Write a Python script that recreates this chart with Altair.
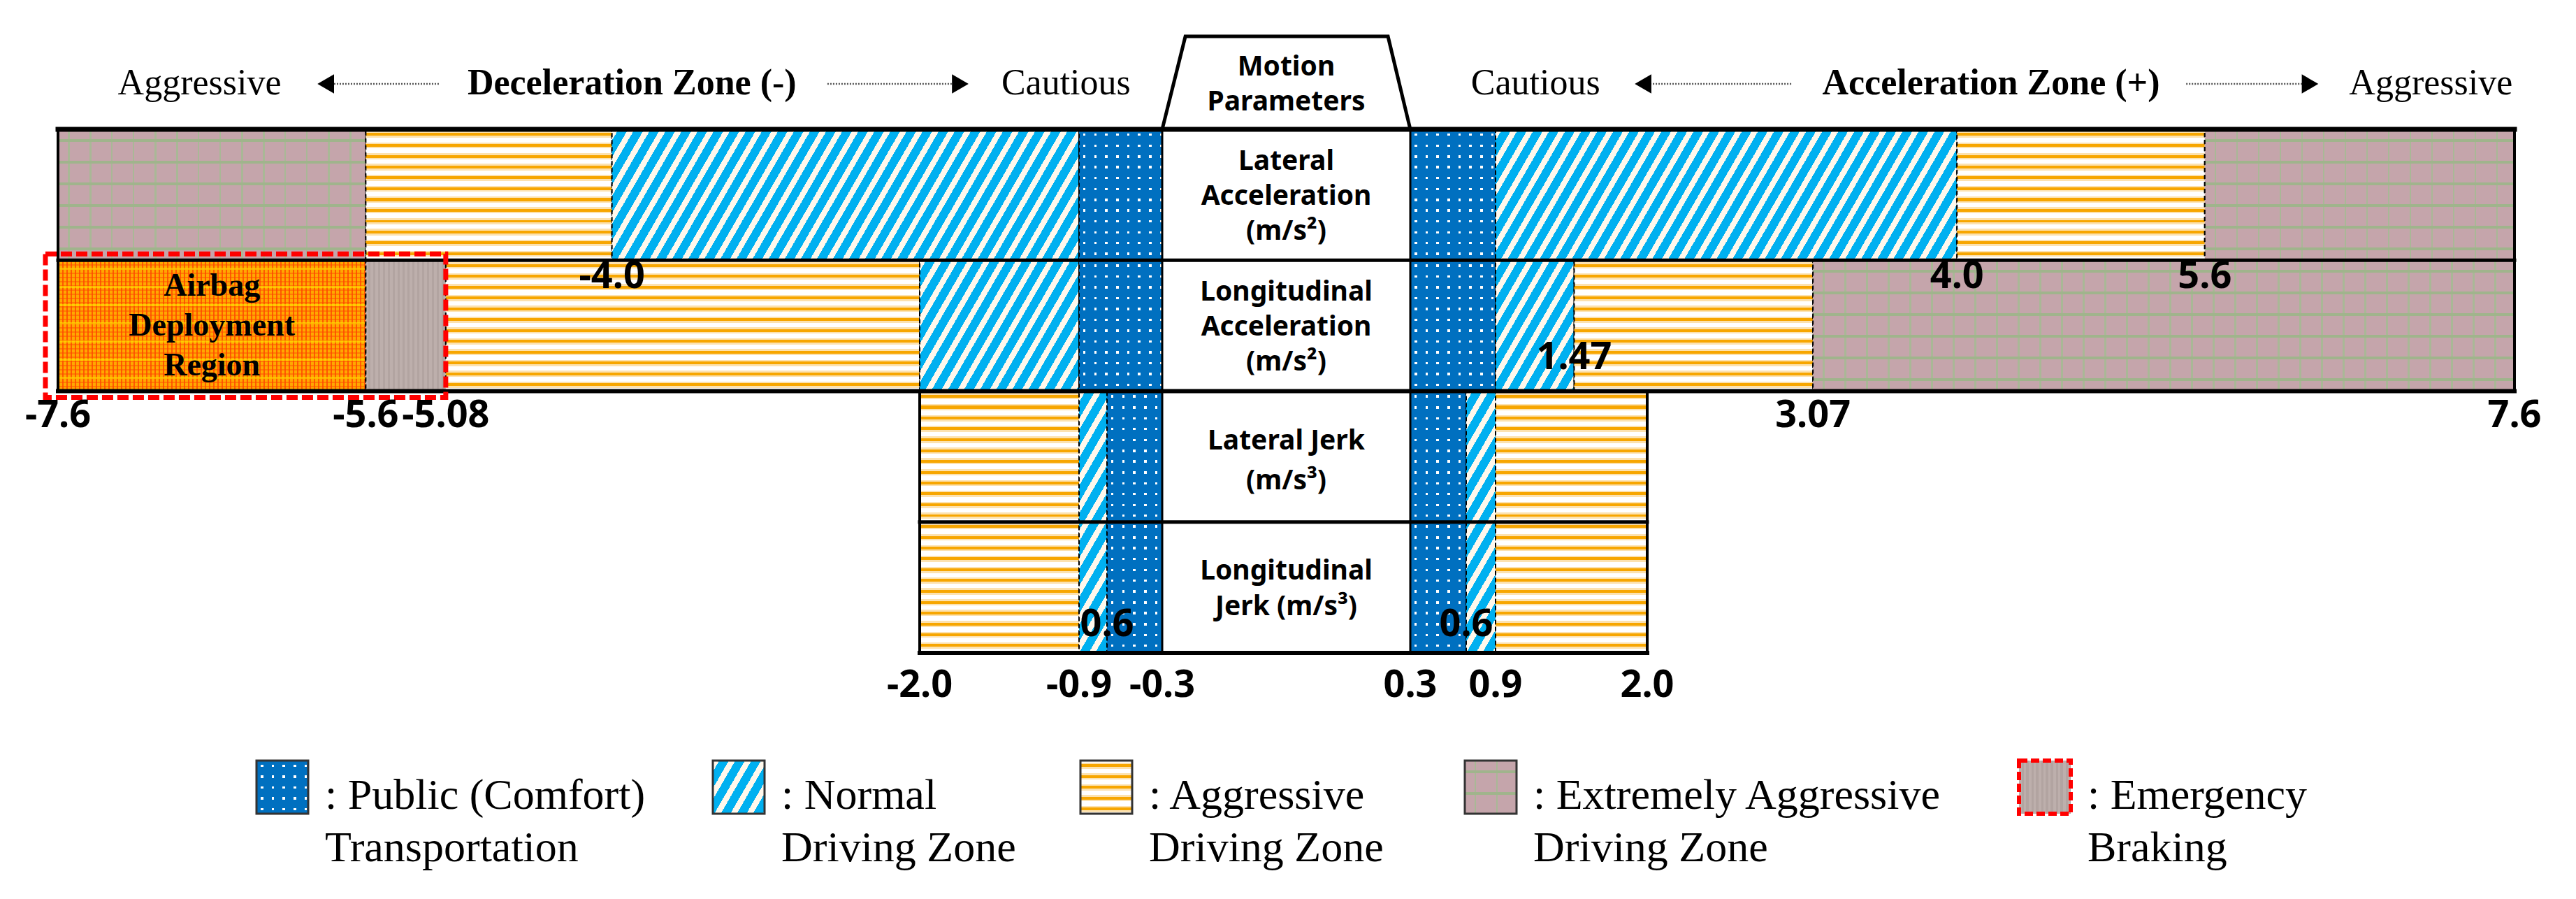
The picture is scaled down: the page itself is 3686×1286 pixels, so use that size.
import math
import altair as alt
import numpy as np
import pandas as pd

# ---------------- values ----------------
LAT_ACC_EDGES = [-7.6, -5.6, -4.0, -0.9, -0.3, 0.3, 0.9, 4.0, 5.6, 7.6]
LAT_ACC_ZONES = ["extreme", "aggressive", "normal", "comfort", "center",
                 "comfort", "normal", "aggressive", "extreme"]
LON_ACC_EDGES = [-7.6, -5.6, -5.08, -2.0, -0.9, -0.3, 0.3, 0.9, 1.47, 3.07, 7.6]
LON_ACC_ZONES = ["airbag", "emergency", "aggressive", "normal", "comfort", "center",
                 "comfort", "normal", "aggressive", "extreme"]
JERK_EDGES = [-2.0, -0.9, -0.6, -0.3, 0.3, 0.6, 0.9, 2.0]
JERK_ZONES = ["aggressive", "normal", "comfort", "center", "comfort", "normal", "aggressive"]

ROW_LABELS = ["Lateral\nAcceleration\n(m/s²)", "Longitudinal\nAcceleration\n(m/s²)",
              "Lateral Jerk\n(m/s³)", "Longitudinal\nJerk (m/s³)"]

ACC_TICKS = [-7.6, -5.6, -5.08, 3.07, 7.6]
ACC_TICK_TEXT = ["-7.6", "-5.6", "-5.08", "3.07", "7.6"]
ACC_INNER = [-4.0, 4.0, 5.6]
ACC_INNER_TEXT = ["-4.0", "4.0", "5.6"]
ACC_LOW = [1.47]
ACC_LOW_TEXT = ["1.47"]
JERK_TICKS = [-2.0, -0.9, -0.3, 0.3, 0.9, 2.0]
JERK_TICK_TEXT = ["-2.0", "-0.9", "-0.3", "0.3", "0.9", "2.0"]
JERK_INNER = [-0.6, 0.6]
JERK_INNER_TEXT = ["0.6", "0.6"]

HEADER_TEXT = ["Aggressive", "Deceleration Zone (-)", "Cautious",
               "Cautious", "Acceleration Zone (+)", "Aggressive"]
HEADER_POS = [-6.68, -3.87, -0.99, 1.19, 4.22, 7.06]
HEADER_BOLD = [False, True, False, False, True, False]
ARROW_TAIL = [-5.125, -2.60, 2.93, 5.48]
ARROW_HEAD = [-5.86, -1.72, 1.97, 6.28]
ARROW_SHAPE = ["triangle-left", "triangle-right", "triangle-left", "triangle-right"]

LEGEND_ZONES = ["comfort", "normal", "aggressive", "extreme", "emergency"]
LEGEND_TEXT = [": Public (Comfort)\nTransportation", ": Normal\nDriving Zone",
               ": Aggressive\nDriving Zone", ": Extremely Aggressive\nDriving Zone",
               ": Emergency\nBraking"]

# ---------------- layout / style ----------------
W_VIEW, H_VIEW = 3670, 1270
XD = [-7.6, -2.0, -0.9, -0.6, -0.3, 0.3, 0.6, 0.9, 2.0, 7.6]
XR = [75, 1308, 1536, 1576, 1655, 2010, 2090, 2132, 2349, 3590]
Y_TOP, ROW_PX = 177, 187.25
LEG_X = [359, 1012, 1538, 2088, 2881]

X_SCALE = alt.Scale(domain=XD, range=XR, nice=False, zero=False)
Y_SCALE = alt.Scale(domain=[0, 4], range=[Y_TOP, Y_TOP + 4 * ROW_PX], nice=False, zero=False)
LEG_SCALE = alt.Scale(domain=[0, 1, 2, 3, 4], range=LEG_X, nice=False, zero=False)

BLUE = "#0070C0"
CYAN = "#00B0F0"
CREAM = "#FFF8EC"
ORANGE = "#F7A600"
PALE = "#FCE2B0"
PINK = "#C5A5AB"
GREEN_V = "#A9B896"
GREEN_H = "#A0B48C"
CLEAR = "rgba(255,255,255,0)"
AMBER = "#FFA800"
RED = "#FF5A00"
SERIF = "Liberation Serif"
SANS = "Noto Sans"


def px(v):
    return float(np.interp(v, XD, XR))


def periodic_stops(L, P, bands, bg, phase=0.0):
    stops = [(0.0, bg)]
    start = phase - P
    while start < L:
        for a, b, col in bands:
            s = (start + a) / L
            e = (start + b) / L
            if e <= 0 or s >= 1:
                continue
            s = max(s, 0.0)
            e = min(e, 1.0)
            stops += [(s, bg), (s, col), (e, col), (e, bg)]
        start += P
    stops.append((1.0, bg))
    return [{"offset": round(o, 5), "color": c} for o, c in stops]


def grad(x2, y2, stops):
    return {"gradient": "linear", "x1": 0, "y1": 0, "x2": x2, "y2": y2, "stops": stops}


def hgrad(W, P, bands, bg, phase=0.0):
    return grad(1, 0, periodic_stops(W, P, bands, bg, phase))


def vgrad(H, P, bands, bg, phase=0.0):
    return grad(0, 1, periodic_stops(H, P, bands, bg, phase))


def diag(W, H, theta=60, Ph=23, white=0.4):
    s, c = math.sin(math.radians(theta)), math.cos(math.radians(theta))
    L = W * s + H * c
    P = Ph * s
    stops = periodic_stops(L, P, [(0, P * white, CREAM)], CYAN)
    gx, gy = W * s / L, H * c / L
    n2 = gx * gx + gy * gy
    return grad(gx / n2, gy / n2, stops)


def zone_fills(zone, W, H):
    if zone == "comfort":
        return [hgrad(W, 15.7, [(6, 9.5, "#FFFFFF")], BLUE),
                vgrad(H, 15.5, [(6, 9.5, CLEAR)], BLUE)]
    if zone == "normal":
        return [diag(W, H)]
    if zone == "aggressive":
        return [vgrad(H, 15.5, [(3, 5.5, PALE), (5.5, 9.5, ORANGE), (9.5, 12, PALE)], "#FFFFFF")]
    if zone == "extreme":
        return [hgrad(W, 31, [(14, 16.5, GREEN_V)], PINK),
                vgrad(H, 31, [(14, 18, GREEN_H)], CLEAR)]
    if zone == "emergency":
        return [hgrad(W, 7, [(0, 3.5, "#BDAFAC")], "#B2A4A1")]
    if zone == "airbag":
        return [hgrad(W, 6, [(0, 2, RED)], AMBER),
                vgrad(H, 6, [(0, 2, "rgba(255,70,0,0.45)")], CLEAR),
                vgrad(H, 26, [(11, 14, "rgba(255,235,0,0.55)")], CLEAR)]
    return []


layers = []


def add_zone(x0, x1, y0, y1, zone):
    fills = zone_fills(zone, px(x1) - px(x0), (y1 - y0) * ROW_PX)
    df = pd.DataFrame({"x0": [x0], "x1": [x1], "y0": [y0], "y1": [y1]})
    for i, f in enumerate(fills):
        mk = dict(fill=f)
        if i == len(fills) - 1:
            mk.update(stroke="black", strokeWidth=2, strokeDash=[6, 4])
        layers.append(alt.Chart(df).mark_rect(**mk).encode(
            x=alt.X("x0:Q", scale=X_SCALE, axis=None), x2="x1:Q",
            y=alt.Y("y0:Q", scale=Y_SCALE, axis=None), y2="y1:Q"))


for edges, zones, y0, y1 in [(LAT_ACC_EDGES, LAT_ACC_ZONES, 0, 1),
                             (LON_ACC_EDGES, LON_ACC_ZONES, 1, 2),
                             (JERK_EDGES, JERK_ZONES, 2, 4)]:
    for k, z in enumerate(zones):
        if z != "center":
            add_zone(edges[k], edges[k + 1], y0, y1, z)

# frame lines
acc_l, acc_r = LAT_ACC_EDGES[0], LAT_ACC_EDGES[-1]
j_l, j_r = JERK_EDGES[0], JERK_EDGES[-1]
c_l, c_r = JERK_EDGES[3], JERK_EDGES[4]
frame = pd.DataFrame({
    "x0": [acc_l, acc_l, acc_l, acc_l, acc_r, j_l, j_r, j_l, j_l, c_l, c_r],
    "x1": [acc_r, acc_r, acc_r, acc_l, acc_r, j_l, j_r, j_r, j_r, c_l, c_r],
    "y0": [0, 1, 2, 0, 0, 2, 2, 3, 4, 0, 0],
    "y1": [0, 1, 2, 2, 2, 4, 4, 3, 4, 4, 4],
    "w": [7, 5, 6, 4, 4, 4, 4, 5, 6, 3, 3],
})
layers.append(alt.Chart(frame).mark_rule(color="black", strokeCap="square").encode(
    x=alt.X("x0:Q", scale=X_SCALE, axis=None), x2="x1:Q",
    y=alt.Y("y0:Q", scale=Y_SCALE, axis=None), y2="y1:Q",
    strokeWidth=alt.StrokeWidth("w:Q", scale=None)))

# motion parameters trapezoid
trap = pd.DataFrame({"x": [-0.3, -0.244, 0.246, 0.3], "y": [0, -0.71, -0.71, 0], "i": [0, 1, 2, 3]})
layers.append(alt.Chart(trap).mark_line(color="black", strokeWidth=5, strokeJoin="miter").encode(
    x=alt.X("x:Q", scale=X_SCALE, axis=None), y=alt.Y("y:Q", scale=Y_SCALE, axis=None),
    order="i:O"))

# emergency (airbag) red dashed box
red = pd.DataFrame({"x0": [LON_ACC_EDGES[0]], "x1": [LON_ACC_EDGES[2]], "y0": [1], "y1": [2]})
layers.append(alt.Chart(red).mark_rect(fill=CLEAR, stroke="#FF0000", strokeWidth=7,
                                       strokeDash=[16, 6], xOffset=-18, yOffset=-9, y2Offset=9).encode(
    x=alt.X("x0:Q", scale=X_SCALE, axis=None), x2="x1:Q",
    y=alt.Y("y0:Q", scale=Y_SCALE, axis=None), y2="y1:Q"))


def text_layer(xs, ys, texts, font, size, bold=False, align="center", line_height=None,
               scale=X_SCALE, dx=0):
    df = pd.DataFrame({"x": xs, "y": ys, "t": texts})
    mk = dict(font=font, fontSize=size, fontWeight="bold" if bold else "normal",
              align=align, baseline="alphabetic", color="black", lineBreak="\n")
    if line_height:
        mk["lineHeight"] = line_height
    if dx:
        mk["dx"] = dx
    return alt.Chart(df).mark_text(**mk).encode(
        x=alt.X("x:Q", scale=scale, axis=None), y=alt.Y("y:Q", scale=Y_SCALE, axis=None),
        text="t:N")


# header
for t, x, b in zip(HEADER_TEXT, HEADER_POS, HEADER_BOLD):
    layers.append(text_layer([x], [-0.267], [t], SERIF, 52, bold=b))
arrows = pd.DataFrame({"tail": ARROW_TAIL, "head": ARROW_HEAD, "shape": ARROW_SHAPE,
                       "y": [-0.347] * 4})
layers.append(alt.Chart(arrows).mark_rule(color="#555", strokeWidth=2.5, strokeDash=[2, 2]).encode(
    x=alt.X("tail:Q", scale=X_SCALE, axis=None), x2="head:Q",
    y=alt.Y("y:Q", scale=Y_SCALE, axis=None)))
layers.append(alt.Chart(arrows).mark_point(filled=True, color="black", size=750, opacity=1).encode(
    x=alt.X("head:Q", scale=X_SCALE, axis=None), y=alt.Y("y:Q", scale=Y_SCALE, axis=None),
    shape=alt.Shape("shape:N", scale=None)))

layers.append(text_layer([0], [-0.411], ["Motion\nParameters"], SANS, 39, True, line_height=50))
layers.append(text_layer([0, 0], [0.310, 1.308], ROW_LABELS[:2], SANS, 39, True, line_height=50))
layers.append(text_layer([0], [2.446], ROW_LABELS[2:3], SANS, 39, True, line_height=57))
layers.append(text_layer([0], [3.439], ROW_LABELS[3:4], SANS, 39, True, line_height=51))
layers.append(text_layer([(LON_ACC_EDGES[0] + LON_ACC_EDGES[1]) / 2], [1.271],
                         ["Airbag\nDeployment\nRegion"], SERIF, 46, True, line_height=57))

# value labels
layers.append(text_layer(ACC_TICKS, [2.275] * len(ACC_TICKS), ACC_TICK_TEXT, SANS, 54, True))
layers.append(text_layer(ACC_INNER, [1.212] * len(ACC_INNER), ACC_INNER_TEXT, SANS, 54, True))
layers.append(text_layer(ACC_LOW, [1.832], ACC_LOW_TEXT, SANS, 54, True))
layers.append(text_layer(JERK_TICKS, [4.337] * len(JERK_TICKS), JERK_TICK_TEXT, SANS, 54, True))
layers.append(text_layer(JERK_INNER, [3.872] * 2, JERK_INNER_TEXT, SANS, 54, True))

# legend
for k, z in enumerate(LEGEND_ZONES):
    df = pd.DataFrame({"s": [k], "y0": [4.822], "y1": [5.228]})
    enc = dict(x=alt.X("s:Q", scale=LEG_SCALE, axis=None), x2="s:Q",
               y=alt.Y("y0:Q", scale=Y_SCALE, axis=None), y2="y1:Q")
    fills = zone_fills(z, 74, 76)
    for i, f in enumerate(fills):
        mk = dict(fill=f, x2Offset=74)
        if i == len(fills) - 1:
            if z == "emergency":
                mk.update(stroke="#FF0000", strokeWidth=6, strokeDash=[12, 5])
            else:
                mk.update(stroke="#333", strokeWidth=3)
        layers.append(alt.Chart(df).mark_rect(**mk).encode(**enc))
layers.append(text_layer(list(range(5)), [5.191] * 5, LEGEND_TEXT, SERIF, 62,
                         align="left", line_height=75, scale=LEG_SCALE, dx=98))

chart = alt.layer(*layers).resolve_scale(x="independent", y="independent").properties(
    width=W_VIEW, height=H_VIEW, autosize=alt.AutoSizeParams(type="none"), padding=0,
    background="white").configure_view(stroke=None)

chart.save("out.html", embed_options={"renderer": "svg", "actions": False})
